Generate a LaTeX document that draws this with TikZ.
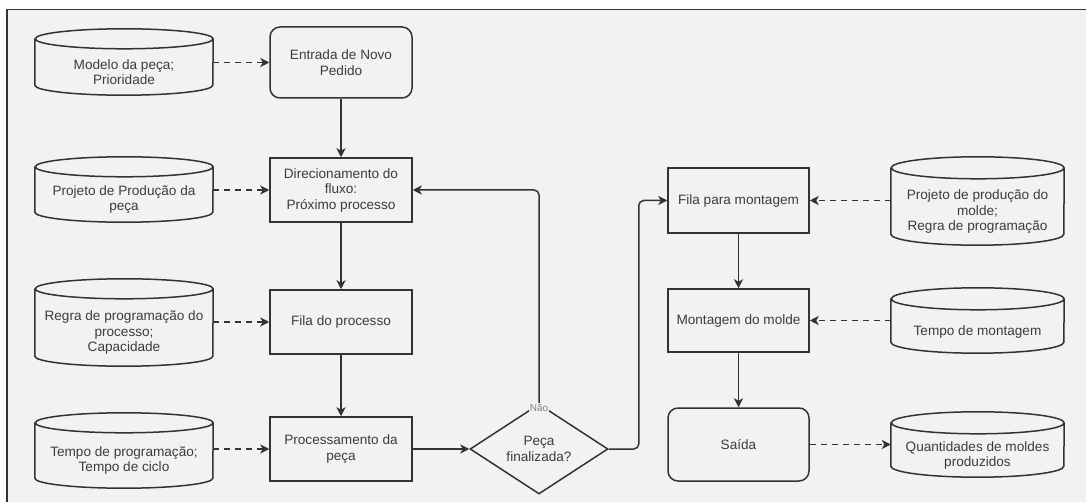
\documentclass[tikz,border=0pt]{standalone}
\usepackage{fontspec}
\setmainfont{Liberation Sans}
\usetikzlibrary{shapes.geometric,arrows.meta}
\definecolor{fundo}{HTML}{F2F2F2}
\definecolor{traco}{HTML}{333333}
\definecolor{letra}{HTML}{3C3C3C}
% contorno de cilindro em volta de um no: no, raio y, raio x
\newcommand{\cilindro}[3]{\draw[linha] ([yshift=#2pt]#1.north west) -- ([yshift=#2pt]#1.south west) arc[start angle=180,end angle=360,x radius=#3pt,y radius=#2pt] -- ([yshift=#2pt]#1.north east) arc[start angle=0,end angle=360,x radius=#3pt,y radius=#2pt];}
\begin{document}
\begin{tikzpicture}[x=1pt,y=-1pt,>={Stealth[length=9pt,width=9pt,inset=2.5pt]},
	linha/.style={draw=traco,line width=1.5pt},
	texto/.style={text=letra,align=center,font=\fontsize{13.6}{15.5}\selectfont},
	caixa/.style={linha,texto,minimum width=142pt,minimum height=64pt,inner sep=2pt},
	redonda/.style={caixa,rounded corners=10pt},
	banco/.style={texto,minimum width=#1pt,inner sep=0pt},
	decisao/.style={linha,texto,diamond,minimum width=138pt,minimum height=59pt,inner sep=0pt},
	fluxo/.style={linha,->},
	dados/.style={linha,->,dash pattern=on 6pt off 5pt}]
		\useasboundingbox (0,0) rectangle (1086,502);
		\fill[fundo] (7,9.5) rectangle (1086,502);
		\draw[traco,line width=1.6pt] (7,502) -- (7,9.5) -- (1086,9.5);
		% processo da peca
		\node[redonda,minimum height=71pt] (entrada) at (341,62.5) {Entrada de Novo\\Pedido};
		\node[caixa] (direc) at (341,190) {Direcionamento do\\fluxo:\\Próximo processo};
		\node[caixa] (filaproc) at (341,322) {Fila do processo};
		\node[caixa] (proc) at (341,449) {Processamento da\\peça};
		\node[decisao] (final) at (539,449) {Peça\\finalizada?};
		% montagem
		\node[caixa,minimum width=141pt,minimum height=65pt] (filamont) at (738.5,200.5) {Fila para montagem};
		\node[caixa,minimum width=141pt,minimum height=63pt] (mont) at (738.5,320.5) {Montagem do molde};
		\node[redonda,minimum width=141pt,minimum height=73pt] (saida) at (738.5,444.5) {Saída};
		% dados de entrada
		\node[banco=178,minimum height=46pt] (modelo) at (124,72) {Modelo da peça;\\Prioridade};
		\node[banco=178,minimum height=45pt] (projpeca) at (124,199.5) {Projeto de Produção da\\peça};
		\node[banco=178,minimum height=67pt] (regra) at (124,332.5) {Regra de programação do\\processo;\\Capacidade};
		\node[banco=178,minimum height=55pt] (tempoprog) at (124,460.5) {Tempo de programação;\\Tempo de ciclo};
		\node[banco=173,minimum height=66pt] (projmolde) at (977.5,212) {Projeto de produção do\\molde;\\Regra de programação};
		\node[banco=173,minimum height=43pt] (tempomont) at (977.5,331.5) {Tempo de montagem};
		\node[banco=173,minimum height=43pt] (qtd) at (977.5,455.5) {Quantidades de moldes\\produzidos};
		\cilindro{modelo}{10}{89}
		\cilindro{projpeca}{10}{89}
		\cilindro{regra}{10}{89}
		\cilindro{tempoprog}{10}{89}
		\cilindro{projmolde}{11}{86.5}
		\cilindro{tempomont}{11}{86.5}
		\cilindro{qtd}{11}{86.5}
		% ligacoes
		\draw[fluxo] (entrada) -- (direc);
		\draw[fluxo] (direc) -- (filaproc);
		\draw[fluxo] (filaproc) -- (proc);
		\draw[fluxo] (proc) -- (final);
		\draw[fluxo,rounded corners=5pt] (final.north) |- (direc.east);
		\draw[fluxo,rounded corners=5pt] (final.east) -- ++(30,0) |- (filamont.west);
		\draw[fluxo] (filamont) -- (mont);
		\draw[fluxo] (mont) -- (saida);
		\node[fill=fundo,text=gray,font=\fontsize{10}{12}\selectfont,inner sep=1pt] (nao) at (539,408) {Não};
		\draw[dados] (modelo.east |- entrada) -- (entrada);
		\draw[dados] (projpeca.east |- direc) -- (direc);
		\draw[dados] (regra.east |- filaproc) -- (filaproc);
		\draw[dados] (tempoprog.east |- proc) -- (proc);
		\draw[dados] (projmolde.west |- filamont) -- (filamont);
		\draw[dados] (tempomont.west |- mont) -- (mont);
		\draw[dados] (saida) -- (qtd.west |- saida);
\end{tikzpicture}
\end{document}
